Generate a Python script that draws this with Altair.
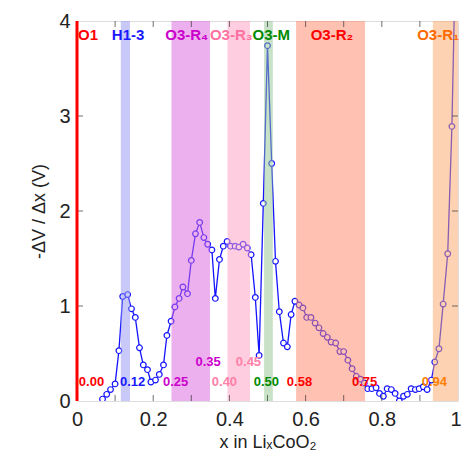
import altair as alt
import pandas as pd

# ---- data ----
x_vals = [0.067, 0.078, 0.088, 0.100, 0.110, 0.120, 0.133, 0.143, 0.153, 0.164,
          0.174, 0.185, 0.194, 0.206, 0.216, 0.227, 0.236, 0.247, 0.257, 0.268,
          0.278, 0.290, 0.300, 0.311, 0.322, 0.333, 0.343, 0.354, 0.363, 0.374,
          0.384, 0.394, 0.403, 0.415, 0.425, 0.436, 0.447, 0.457, 0.468, 0.478,
          0.489, 0.500, 0.511, 0.521, 0.531, 0.542, 0.552, 0.562, 0.572, 0.583,
          0.593, 0.603, 0.614, 0.625, 0.635, 0.646, 0.657, 0.667, 0.679, 0.690,
          0.700, 0.711, 0.722, 0.733, 0.744, 0.754, 0.763, 0.774, 0.785, 0.794,
          0.804, 0.814, 0.825, 0.835, 0.846, 0.857, 0.867, 0.877, 0.888, 0.898,
          0.909, 0.919, 0.930, 0.939, 0.950, 0.961, 0.973, 0.984, 0.995]
y_vals = [0.02, 0.07, 0.12, 0.18, 0.53, 1.10, 1.12, 0.97, 0.88, 0.56,
          0.38, 0.33, 0.20, 0.22, 0.28, 0.38, 0.69, 0.84, 0.99, 1.08,
          1.20, 1.13, 1.48, 1.76, 1.88, 1.72, 1.65, 1.59, 1.08, 1.49,
          1.63, 1.68, 1.63, 1.63, 1.62, 1.65, 1.61, 1.54, 1.09, 0.48,
          2.08, 3.74, 2.50, 1.47, 0.94, 0.61, 0.57, 0.91, 1.05, 1.01,
          0.98, 0.88, 0.88, 0.82, 0.77, 0.71, 0.67, 0.62, 0.61, 0.52,
          0.52, 0.43, 0.34, 0.26, 0.23, 0.19, 0.13, 0.13, 0.14, 0.08,
          0.05, 0.13, 0.12, 0.08, 0.00, 0.05, 0.07, 0.13, 0.12, 0.13,
          0.15, 0.12, 0.22, 0.41, 0.55, 1.02, 1.55, 2.89, 5.00]

band_names = ["H1-3", "O3-R4", "O3-R3", "O3-M", "O3-R2", "O3-R1"]
band_start = [0.115, 0.248, 0.395, 0.491, 0.575, 0.934]
band_end = [0.139, 0.349, 0.454, 0.514, 0.756, 1.000]
band_colors = ["#9393f3", "#d961dd", "#ff9bc1", "#91c591", "#ff8565", "#fba565"]

top_labels = ["O1", "H1-3", "O3-R\u2084", "O3-R\u2083", "O3-M", "O3-R\u2082", "O3-R\u2081"]
top_x = [0.029, 0.134, 0.288, 0.405, 0.510, 0.669, 0.948]
top_y = [3.85, 3.85, 3.85, 3.85, 3.85, 3.85, 3.85]
top_colors = ["#ff0000", "#1a1aff", "#cc00cc", "#ff6f9f", "#008a00", "#ff0000", "#ff6a00"]

bottom_labels = ["0.00", "0.12", "0.25", "0.35", "0.40", "0.45", "0.50", "0.58", "0.75", "0.94"]
bottom_x = [0.038, 0.146, 0.259, 0.344, 0.387, 0.450, 0.497, 0.584, 0.755, 0.938]
bottom_y = [0.20, 0.20, 0.20, 0.41, 0.20, 0.41, 0.20, 0.20, 0.20, 0.20]
bottom_colors = ["#ff0000", "#1a1aff", "#cc00cc", "#cc00cc", "#ff80a8", "#ff80a8",
                 "#008a00", "#ff0000", "#ff0000", "#ff7f00"]

o1_x = [0.0]
x_tick_vals = [0.1, 0.2, 0.3, 0.4, 0.5, 0.6, 0.7, 0.8, 0.9]
x_label_vals = [0, 0.2, 0.4, 0.6, 0.8, 1]
y_tick_vals = [1, 2, 3]
y_label_vals = [0, 1, 2, 3, 4]

W, H = 381, 380
FONT = "Liberation Sans"

curve = pd.DataFrame({"x": x_vals, "y": y_vals})
bands = pd.DataFrame({"name": band_names, "x0": band_start, "x1": band_end, "c": band_colors})
tops = pd.DataFrame({"t": top_labels, "x": top_x, "y": top_y, "c": top_colors})
bots = pd.DataFrame({"t": bottom_labels, "x": bottom_x, "y": bottom_y, "c": bottom_colors})
o1 = pd.DataFrame({"x": o1_x})
xt = pd.DataFrame({"x": x_tick_vals})
yt = pd.DataFrame({"y": y_tick_vals})

xs = alt.Scale(domain=[0, 1], nice=False, zero=False)
ys = alt.Scale(domain=[0, 4], nice=False, zero=False)

x_axis = alt.Axis(values=x_label_vals, format="~g", ticks=False, tickSize=0, grid=False,
                  domain=False, labelFontSize=20, labelFont=FONT, labelColor="#222",
                  labelPadding=8,
                  labelAlign={"condition": {"test": "datum.value == 1", "value": "right"},
                              "value": "center"},
                  labelOffset={"condition": {"test": "datum.value == 1", "value": 3},
                               "value": 0},
                  title="x in Li\u2093CoO\u2082", titleFont=FONT,
                  titleFontSize=18, titleFontWeight="normal", titleColor="#222",
                  titlePadding=4, labelFlush=False)
y_axis = alt.Axis(values=y_label_vals, format="d", ticks=False, tickSize=0, grid=False,
                  domain=False, labelFontSize=20, labelFont=FONT, labelColor="#222",
                  labelPadding=7, title="-\u0394V / \u0394x (V)", titleFont=FONT,
                  titleFontSize=18, titleFontWeight="normal", titleColor="#222",
                  titlePadding=10, labelFlush=False)

line = alt.Chart(curve).mark_line(color="#1414ff", strokeWidth=1.3, clip=True).encode(
    x=alt.X("x:Q", scale=xs, axis=x_axis),
    y=alt.Y("y:Q", scale=ys, axis=y_axis),
)
pts = alt.Chart(curve).mark_point(shape="circle", size=32, filled=False, fill="white",
                                  fillOpacity=1, color="#1414ff", strokeWidth=1.2,
                                  opacity=1, clip=True).encode(
    x=alt.X("x:Q", scale=xs),
    y=alt.Y("y:Q", scale=ys),
)
band_layer = alt.Chart(bands).mark_rect(opacity=0.5).encode(
    x=alt.X("x0:Q", scale=xs),
    x2="x1:Q",
    color=alt.Color("c:N", scale=None),
)
top_text = alt.Chart(tops).mark_text(font=FONT, fontWeight="bold", fontSize=15,
                                     align="center", baseline="middle").encode(
    x=alt.X("x:Q", scale=xs), y=alt.Y("y:Q", scale=ys),
    text="t:N", color=alt.Color("c:N", scale=None),
)
bot_text = alt.Chart(bots).mark_text(font=FONT, fontWeight="bold", fontSize=13,
                                     align="center", baseline="middle").encode(
    x=alt.X("x:Q", scale=xs), y=alt.Y("y:Q", scale=ys),
    text="t:N", color=alt.Color("c:N", scale=None),
)
o1_rule = alt.Chart(o1).mark_rule(color="#ff0000", strokeWidth=3).encode(
    x=alt.X("x:Q", scale=xs)
)
tick_b = alt.Chart(xt).mark_tick(orient="vertical", size=6, thickness=1, color="#333").encode(
    x=alt.X("x:Q", scale=xs), y=alt.value(H - 3))
tick_t = alt.Chart(xt).mark_tick(orient="vertical", size=6, thickness=1, color="#333").encode(
    x=alt.X("x:Q", scale=xs), y=alt.value(3))
tick_l = alt.Chart(yt).mark_tick(orient="horizontal", size=6, thickness=1, color="#333").encode(
    y=alt.Y("y:Q", scale=ys), x=alt.value(3))
tick_r = alt.Chart(yt).mark_tick(orient="horizontal", size=6, thickness=1, color="#333").encode(
    y=alt.Y("y:Q", scale=ys), x=alt.value(W - 3))

chart = alt.layer(line, pts, band_layer, top_text, bot_text, tick_b, tick_t, tick_l, tick_r,
                  o1_rule).properties(
    width=W, height=H,
    autosize=alt.AutoSizeParams(type="none"),
    padding={"left": 69, "top": 13, "right": 3, "bottom": 52},
).configure_view(stroke="#222", strokeWidth=1).configure(background="white")

chart.save("out.html", embed_options={"renderer": "svg", "actions": False})
